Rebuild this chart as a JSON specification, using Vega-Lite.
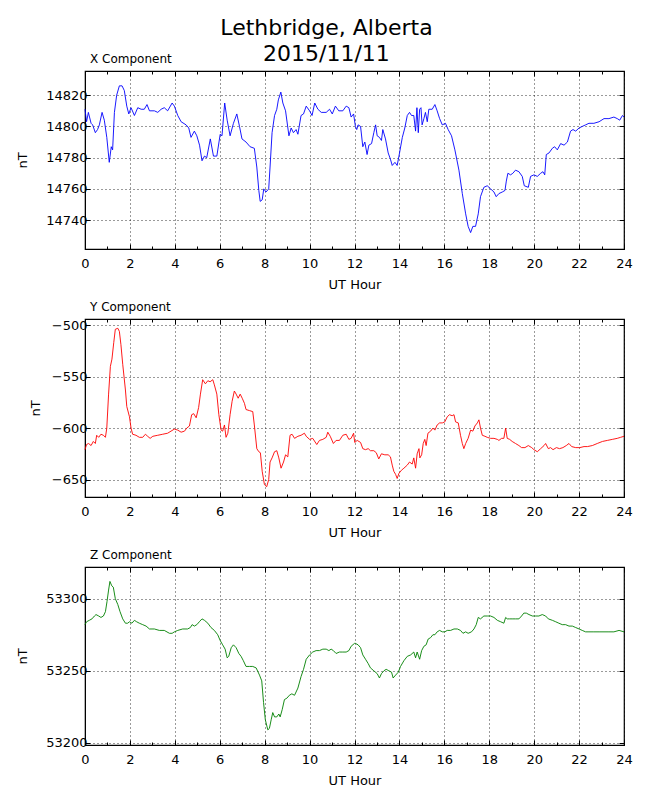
{
"$schema": "https://vega.github.io/schema/vega-lite/v6.json",
"background": "white",
"padding": {"left": 16, "top": 16, "right": 5, "bottom": 5},
"title": {"text": ["Lethbridge, Alberta", "2015/11/11"], "fontSize": 22, "font": "DejaVu Sans", "fontWeight": "normal", "anchor": "middle", "lineHeight": 26, "offset": -14, "dx": 2, "color": "black"},
"spacing": 7,
"datasets": {
"X": [
{"h":0.00,"v":14811},{"h":0.07,"v":14803},{"h":0.15,"v":14809},{"h":0.27,"v":14802},{"h":0.34,"v":14801},{"h":0.46,"v":14796},{"h":0.56,"v":14798},{"h":0.64,"v":14801},{"h":0.76,"v":14809},{"h":0.86,"v":14804},{"h":0.97,"v":14793},{"h":1.08,"v":14777},{"h":1.17,"v":14787},{"h":1.23,"v":14785},{"h":1.31,"v":14809},{"h":1.41,"v":14820},{"h":1.53,"v":14826},{"h":1.65,"v":14826},{"h":1.75,"v":14823},{"h":1.86,"v":14813},{"h":1.95,"v":14808},{"h":2.05,"v":14812},{"h":2.20,"v":14807},{"h":2.35,"v":14812},{"h":2.50,"v":14811},{"h":2.64,"v":14811},{"h":2.76,"v":14814},{"h":2.87,"v":14810},{"h":3.09,"v":14810},{"h":3.24,"v":14809},{"h":3.39,"v":14811},{"h":3.53,"v":14812},{"h":3.68,"v":14810},{"h":3.88,"v":14815},{"h":3.98,"v":14813},{"h":4.13,"v":14807},{"h":4.28,"v":14803},{"h":4.50,"v":14801},{"h":4.62,"v":14799},{"h":4.72,"v":14793},{"h":4.87,"v":14797},{"h":4.98,"v":14794},{"h":5.10,"v":14788},{"h":5.21,"v":14778},{"h":5.32,"v":14781},{"h":5.42,"v":14780},{"h":5.58,"v":14792},{"h":5.72,"v":14781},{"h":5.87,"v":14781},{"h":6.02,"v":14795},{"h":6.10,"v":14794},{"h":6.22,"v":14815},{"h":6.33,"v":14804},{"h":6.46,"v":14794},{"h":6.61,"v":14802},{"h":6.76,"v":14808},{"h":6.88,"v":14800},{"h":6.99,"v":14792},{"h":7.17,"v":14790},{"h":7.35,"v":14787},{"h":7.54,"v":14786},{"h":7.65,"v":14774},{"h":7.74,"v":14759},{"h":7.80,"v":14752},{"h":7.89,"v":14753},{"h":7.96,"v":14760},{"h":8.06,"v":14758},{"h":8.18,"v":14760},{"h":8.24,"v":14774},{"h":8.33,"v":14796},{"h":8.44,"v":14807},{"h":8.54,"v":14811},{"h":8.61,"v":14817},{"h":8.72,"v":14822},{"h":8.81,"v":14815},{"h":8.93,"v":14810},{"h":9.08,"v":14794},{"h":9.18,"v":14799},{"h":9.28,"v":14796},{"h":9.40,"v":14798},{"h":9.48,"v":14795},{"h":9.62,"v":14807},{"h":9.73,"v":14808},{"h":9.85,"v":14813},{"h":10.00,"v":14810},{"h":10.11,"v":14807},{"h":10.23,"v":14815},{"h":10.37,"v":14811},{"h":10.52,"v":14809},{"h":10.74,"v":14809},{"h":10.89,"v":14811},{"h":11.01,"v":14808},{"h":11.15,"v":14813},{"h":11.30,"v":14810},{"h":11.48,"v":14810},{"h":11.63,"v":14813},{"h":11.75,"v":14812},{"h":11.85,"v":14806},{"h":11.96,"v":14808},
{"h":12.04,"v":14800},{"h":12.10,"v":14798},{"h":12.16,"v":14801},{"h":12.27,"v":14800},{"h":12.37,"v":14787},{"h":12.46,"v":14790},{"h":12.56,"v":14782},{"h":12.64,"v":14788},{"h":12.76,"v":14789},{"h":12.86,"v":14796},{"h":12.94,"v":14801},{"h":13.01,"v":14794},{"h":13.11,"v":14793},{"h":13.20,"v":14791},{"h":13.26,"v":14798},{"h":13.38,"v":14792},{"h":13.50,"v":14783},{"h":13.60,"v":14779},{"h":13.68,"v":14775},{"h":13.80,"v":14777},{"h":13.90,"v":14775},{"h":13.98,"v":14781},{"h":14.13,"v":14793},{"h":14.24,"v":14799},{"h":14.35,"v":14807},{"h":14.45,"v":14809},{"h":14.54,"v":14807},{"h":14.64,"v":14807},{"h":14.72,"v":14797},{"h":14.78,"v":14812},{"h":14.84,"v":14796},{"h":14.90,"v":14811},{"h":14.96,"v":14812},{"h":15.01,"v":14801},{"h":15.09,"v":14805},{"h":15.16,"v":14809},{"h":15.24,"v":14803},{"h":15.31,"v":14811},{"h":15.46,"v":14811},{"h":15.58,"v":14814},{"h":15.68,"v":14810},{"h":15.79,"v":14805},{"h":15.91,"v":14801},{"h":16.05,"v":14802},{"h":16.17,"v":14798},{"h":16.32,"v":14794},{"h":16.47,"v":14785},{"h":16.65,"v":14772},{"h":16.80,"v":14757},{"h":16.95,"v":14744},{"h":17.06,"v":14736},{"h":17.17,"v":14732},{"h":17.27,"v":14736},{"h":17.39,"v":14736},{"h":17.51,"v":14744},{"h":17.61,"v":14755},{"h":17.76,"v":14761},{"h":17.91,"v":14762},{"h":18.06,"v":14760},{"h":18.21,"v":14758},{"h":18.31,"v":14755},{"h":18.43,"v":14757},{"h":18.58,"v":14758},{"h":18.70,"v":14759},{"h":18.76,"v":14765},{"h":18.83,"v":14770},{"h":18.95,"v":14769},{"h":19.05,"v":14770},{"h":19.17,"v":14772},{"h":19.32,"v":14771},{"h":19.47,"v":14768},{"h":19.56,"v":14762},{"h":19.74,"v":14761},{"h":19.84,"v":14768},{"h":19.99,"v":14769},{"h":20.14,"v":14768},{"h":20.29,"v":14770},{"h":20.39,"v":14771},{"h":20.47,"v":14769},{"h":20.54,"v":14782},{"h":20.66,"v":14783},{"h":20.81,"v":14786},{"h":20.91,"v":14787},{"h":21.03,"v":14785},{"h":21.18,"v":14789},{"h":21.33,"v":14788},{"h":21.48,"v":14790},{"h":21.62,"v":14797},{"h":21.73,"v":14798},{"h":21.85,"v":14797},{"h":22.00,"v":14799},{"h":22.14,"v":14800},{"h":22.29,"v":14801},{"h":22.44,"v":14802},{"h":22.66,"v":14802},{"h":22.89,"v":14803},{"h":23.11,"v":14805},{"h":23.33,"v":14805},{"h":23.55,"v":14806},{"h":23.70,"v":14805},{"h":23.81,"v":14804},{"h":23.93,"v":14807},{"h":24.00,"v":14806}
],
"Y": [
{"h":0.00,"v":-621},{"h":0.07,"v":-616},{"h":0.16,"v":-615},{"h":0.27,"v":-617},{"h":0.37,"v":-613},{"h":0.46,"v":-615},{"h":0.52,"v":-607},{"h":0.61,"v":-609},{"h":0.71,"v":-606},{"h":0.82,"v":-607},{"h":0.91,"v":-609},{"h":0.97,"v":-600},{"h":1.05,"v":-567},{"h":1.13,"v":-540},{"h":1.20,"v":-533},{"h":1.28,"v":-517},{"h":1.35,"v":-504},{"h":1.46,"v":-503},{"h":1.53,"v":-506},{"h":1.60,"v":-519},{"h":1.68,"v":-538},{"h":1.80,"v":-563},{"h":1.86,"v":-579},{"h":1.98,"v":-589},{"h":2.05,"v":-600},{"h":2.12,"v":-606},{"h":2.27,"v":-607},{"h":2.42,"v":-609},{"h":2.57,"v":-609},{"h":2.69,"v":-606},{"h":2.79,"v":-608},{"h":2.90,"v":-610},{"h":3.02,"v":-608},{"h":3.24,"v":-607},{"h":3.46,"v":-606},{"h":3.68,"v":-605},{"h":3.83,"v":-603},{"h":3.98,"v":-601},{"h":4.13,"v":-602},{"h":4.28,"v":-604},{"h":4.43,"v":-603},{"h":4.53,"v":-600},{"h":4.65,"v":-598},{"h":4.75,"v":-587},{"h":4.84,"v":-586},{"h":4.95,"v":-590},{"h":5.06,"v":-580},{"h":5.14,"v":-567},{"h":5.24,"v":-553},{"h":5.36,"v":-557},{"h":5.47,"v":-554},{"h":5.57,"v":-555},{"h":5.69,"v":-553},{"h":5.76,"v":-558},{"h":5.87,"v":-567},{"h":5.96,"v":-587},{"h":6.06,"v":-602},{"h":6.13,"v":-603},{"h":6.21,"v":-597},{"h":6.28,"v":-609},{"h":6.36,"v":-605},{"h":6.46,"v":-587},{"h":6.55,"v":-574},{"h":6.65,"v":-564},{"h":6.73,"v":-567},{"h":6.82,"v":-571},{"h":6.91,"v":-567},{"h":7.00,"v":-571},{"h":7.10,"v":-576},{"h":7.17,"v":-582},{"h":7.32,"v":-583},{"h":7.47,"v":-584},{"h":7.54,"v":-597},{"h":7.65,"v":-620},{"h":7.74,"v":-623},{"h":7.81,"v":-624},{"h":7.89,"v":-642},{"h":7.99,"v":-655},{"h":8.09,"v":-657},{"h":8.18,"v":-650},{"h":8.24,"v":-633},{"h":8.33,"v":-629},{"h":8.44,"v":-623},{"h":8.54,"v":-622},{"h":8.63,"v":-629},{"h":8.73,"v":-639},{"h":8.84,"v":-633},{"h":8.93,"v":-626},{"h":9.03,"v":-628},{"h":9.13,"v":-607},{"h":9.22,"v":-606},{"h":9.33,"v":-610},{"h":9.48,"v":-608},{"h":9.62,"v":-607},{"h":9.77,"v":-605},{"h":9.85,"v":-608},{"h":10.00,"v":-611},{"h":10.14,"v":-610},{"h":10.32,"v":-616},{"h":10.44,"v":-612},{"h":10.59,"v":-611},{"h":10.74,"v":-609},{"h":10.81,"v":-604},{"h":10.92,"v":-608},{"h":11.06,"v":-615},{"h":11.18,"v":-612},{"h":11.33,"v":-612},{"h":11.48,"v":-607},{"h":11.63,"v":-606},{"h":11.75,"v":-611},{"h":11.85,"v":-610},{"h":11.96,"v":-605},
{"h":12.01,"v":-614},{"h":12.12,"v":-612},{"h":12.27,"v":-614},{"h":12.37,"v":-620},{"h":12.49,"v":-621},{"h":12.61,"v":-620},{"h":12.71,"v":-622},{"h":12.86,"v":-622},{"h":12.97,"v":-624},{"h":13.08,"v":-630},{"h":13.20,"v":-625},{"h":13.35,"v":-626},{"h":13.50,"v":-626},{"h":13.60,"v":-628},{"h":13.68,"v":-636},{"h":13.75,"v":-642},{"h":13.83,"v":-645},{"h":13.90,"v":-649},{"h":13.98,"v":-644},{"h":14.09,"v":-641},{"h":14.20,"v":-639},{"h":14.35,"v":-636},{"h":14.45,"v":-633},{"h":14.57,"v":-635},{"h":14.64,"v":-629},{"h":14.72,"v":-639},{"h":14.79,"v":-625},{"h":14.87,"v":-620},{"h":14.91,"v":-629},{"h":14.99,"v":-626},{"h":15.06,"v":-615},{"h":15.13,"v":-611},{"h":15.19,"v":-617},{"h":15.27,"v":-605},{"h":15.39,"v":-603},{"h":15.49,"v":-600},{"h":15.58,"v":-602},{"h":15.68,"v":-597},{"h":15.79,"v":-595},{"h":15.91,"v":-595},{"h":16.02,"v":-594},{"h":16.13,"v":-589},{"h":16.23,"v":-587},{"h":16.35,"v":-588},{"h":16.43,"v":-587},{"h":16.50,"v":-594},{"h":16.62,"v":-595},{"h":16.72,"v":-607},{"h":16.80,"v":-615},{"h":16.87,"v":-620},{"h":16.95,"v":-615},{"h":17.06,"v":-610},{"h":17.17,"v":-602},{"h":17.27,"v":-603},{"h":17.36,"v":-598},{"h":17.47,"v":-595},{"h":17.54,"v":-592},{"h":17.61,"v":-600},{"h":17.69,"v":-607},{"h":17.81,"v":-608},{"h":17.91,"v":-609},{"h":18.06,"v":-610},{"h":18.21,"v":-610},{"h":18.36,"v":-611},{"h":18.43,"v":-612},{"h":18.55,"v":-610},{"h":18.65,"v":-610},{"h":18.73,"v":-600},{"h":18.80,"v":-610},{"h":18.91,"v":-611},{"h":19.02,"v":-613},{"h":19.17,"v":-615},{"h":19.32,"v":-617},{"h":19.44,"v":-619},{"h":19.59,"v":-619},{"h":19.74,"v":-617},{"h":19.89,"v":-619},{"h":19.99,"v":-621},{"h":20.14,"v":-623},{"h":20.29,"v":-620},{"h":20.44,"v":-617},{"h":20.51,"v":-615},{"h":20.63,"v":-620},{"h":20.73,"v":-619},{"h":20.84,"v":-621},{"h":20.99,"v":-619},{"h":21.13,"v":-620},{"h":21.28,"v":-619},{"h":21.43,"v":-617},{"h":21.55,"v":-615},{"h":21.67,"v":-618},{"h":21.85,"v":-619},{"h":22.03,"v":-619},{"h":22.22,"v":-618},{"h":22.37,"v":-618},{"h":22.59,"v":-617},{"h":22.81,"v":-615},{"h":23.04,"v":-613},{"h":23.26,"v":-612},{"h":23.48,"v":-611},{"h":23.70,"v":-610},{"h":23.85,"v":-609},{"h":24.00,"v":-608}
],
"Z": [
{"h":0.00,"v":53282},{"h":0.07,"v":53284},{"h":0.19,"v":53285},{"h":0.31,"v":53286},{"h":0.42,"v":53288},{"h":0.49,"v":53289},{"h":0.61,"v":53288},{"h":0.71,"v":53287},{"h":0.82,"v":53288},{"h":0.91,"v":53291},{"h":0.98,"v":53298},{"h":1.05,"v":53306},{"h":1.11,"v":53312},{"h":1.19,"v":53309},{"h":1.26,"v":53308},{"h":1.35,"v":53300},{"h":1.46,"v":53296},{"h":1.56,"v":53291},{"h":1.68,"v":53286},{"h":1.80,"v":53283},{"h":1.90,"v":53283},{"h":1.98,"v":53284},{"h":2.09,"v":53283},{"h":2.20,"v":53285},{"h":2.30,"v":53284},{"h":2.42,"v":53283},{"h":2.57,"v":53282},{"h":2.72,"v":53281},{"h":2.87,"v":53279},{"h":3.09,"v":53279},{"h":3.31,"v":53278},{"h":3.53,"v":53278},{"h":3.76,"v":53276},{"h":3.88,"v":53276},{"h":3.98,"v":53277},{"h":4.13,"v":53278},{"h":4.35,"v":53279},{"h":4.57,"v":53279},{"h":4.69,"v":53280},{"h":4.77,"v":53282},{"h":4.87,"v":53281},{"h":4.98,"v":53282},{"h":5.09,"v":53284},{"h":5.21,"v":53286},{"h":5.32,"v":53285},{"h":5.47,"v":53283},{"h":5.61,"v":53280},{"h":5.76,"v":53278},{"h":5.91,"v":53275},{"h":6.02,"v":53271},{"h":6.13,"v":53268},{"h":6.24,"v":53265},{"h":6.33,"v":53259},{"h":6.40,"v":53260},{"h":6.51,"v":53266},{"h":6.61,"v":53268},{"h":6.73,"v":53266},{"h":6.85,"v":53262},{"h":6.95,"v":53260},{"h":7.05,"v":53257},{"h":7.17,"v":53253},{"h":7.32,"v":53253},{"h":7.47,"v":53253},{"h":7.62,"v":53252},{"h":7.77,"v":53247},{"h":7.87,"v":53243},{"h":7.95,"v":53228},{"h":8.03,"v":53216},{"h":8.14,"v":53209},{"h":8.21,"v":53210},{"h":8.29,"v":53216},{"h":8.36,"v":53221},{"h":8.44,"v":53218},{"h":8.54,"v":53218},{"h":8.63,"v":53220},{"h":8.69,"v":53218},{"h":8.78,"v":53223},{"h":8.88,"v":53230},{"h":8.99,"v":53231},{"h":9.10,"v":53233},{"h":9.21,"v":53234},{"h":9.33,"v":53233},{"h":9.48,"v":53238},{"h":9.62,"v":53246},{"h":9.73,"v":53251},{"h":9.85,"v":53258},{"h":10.00,"v":53261},{"h":10.14,"v":53263},{"h":10.29,"v":53264},{"h":10.44,"v":53264},{"h":10.59,"v":53265},{"h":10.74,"v":53265},{"h":10.86,"v":53264},{"h":10.96,"v":53265},{"h":11.06,"v":53264},{"h":11.18,"v":53262},{"h":11.33,"v":53263},{"h":11.48,"v":53263},{"h":11.63,"v":53263},{"h":11.75,"v":53264},{"h":11.85,"v":53267},{"h":12.00,"v":53269},
{"h":12.04,"v":53269},{"h":12.16,"v":53268},{"h":12.27,"v":53266},{"h":12.37,"v":53261},{"h":12.49,"v":53258},{"h":12.61,"v":53255},{"h":12.71,"v":53252},{"h":12.86,"v":53250},{"h":13.01,"v":53248},{"h":13.11,"v":53245},{"h":13.20,"v":53248},{"h":13.31,"v":53250},{"h":13.41,"v":53251},{"h":13.53,"v":53250},{"h":13.65,"v":53249},{"h":13.72,"v":53245},{"h":13.83,"v":53247},{"h":13.95,"v":53249},{"h":14.05,"v":53253},{"h":14.20,"v":53257},{"h":14.35,"v":53260},{"h":14.50,"v":53261},{"h":14.64,"v":53263},{"h":14.72,"v":53259},{"h":14.79,"v":53263},{"h":14.90,"v":53258},{"h":14.99,"v":53264},{"h":15.09,"v":53267},{"h":15.19,"v":53268},{"h":15.28,"v":53272},{"h":15.39,"v":53273},{"h":15.49,"v":53275},{"h":15.58,"v":53275},{"h":15.68,"v":53277},{"h":15.79,"v":53278},{"h":15.91,"v":53277},{"h":16.02,"v":53277},{"h":16.13,"v":53278},{"h":16.28,"v":53278},{"h":16.43,"v":53279},{"h":16.58,"v":53279},{"h":16.72,"v":53278},{"h":16.83,"v":53276},{"h":16.95,"v":53277},{"h":17.06,"v":53276},{"h":17.21,"v":53277},{"h":17.32,"v":53279},{"h":17.42,"v":53282},{"h":17.51,"v":53287},{"h":17.61,"v":53286},{"h":17.76,"v":53288},{"h":17.91,"v":53288},{"h":18.06,"v":53288},{"h":18.21,"v":53287},{"h":18.36,"v":53285},{"h":18.51,"v":53284},{"h":18.65,"v":53283},{"h":18.73,"v":53287},{"h":18.80,"v":53286},{"h":18.91,"v":53286},{"h":19.02,"v":53286},{"h":19.17,"v":53286},{"h":19.32,"v":53286},{"h":19.44,"v":53288},{"h":19.54,"v":53290},{"h":19.65,"v":53290},{"h":19.77,"v":53289},{"h":19.92,"v":53288},{"h":20.06,"v":53288},{"h":20.21,"v":53288},{"h":20.36,"v":53289},{"h":20.51,"v":53288},{"h":20.63,"v":53286},{"h":20.81,"v":53285},{"h":20.96,"v":53284},{"h":21.10,"v":53283},{"h":21.25,"v":53282},{"h":21.40,"v":53282},{"h":21.55,"v":53281},{"h":21.70,"v":53281},{"h":21.85,"v":53280},{"h":22.00,"v":53279},{"h":22.14,"v":53278},{"h":22.29,"v":53277},{"h":22.44,"v":53277},{"h":22.66,"v":53277},{"h":22.89,"v":53277},{"h":23.11,"v":53277},{"h":23.33,"v":53277},{"h":23.55,"v":53277},{"h":23.78,"v":53278},{"h":24.00,"v":53277}
]
},
"vconcat": [
{
"width": 539, "height": 178,
"title": {"text": "X Component", "anchor": "start", "frame": "group", "dx": 5, "fontSize": 12, "font": "DejaVu Sans", "fontWeight": "normal", "offset": 5, "color": "black"},
"data": {"name": "X"},
"layer": [
{"mark": {"type": "line", "color": "#0000ff", "strokeWidth": 0.9},
 "encoding": {
  "x": {"field": "h", "type": "quantitative", "scale": {"domain": [0, 24], "nice": false},
        "axis": {"orient": "bottom", "title": "UT Hour", "values": [0,1,2,3,4,5,6,7,8,9,10,11,12,13,14,15,16,17,18,19,20,21,22,23,24], "labelExpr": "datum.value % 2 === 0 ? datum.label : ''", "labelFlush": false, "labelOverlap": false, "grid": true, "gridOpacity": {"condition": {"test": "datum.value % 2 === 1", "value": 0}, "value": 1}, "tickSize": {"condition": {"test": "datum.value % 2 === 1", "value": -3}, "value": -5}, "labelPadding": 13, "titlePadding": 6}},
  "y": {"field": "v", "type": "quantitative", "scale": {"domain": [14721.5, 14835.5], "nice": false, "zero": false},
        "axis": {"orient": "left", "title": "nT", "values": [14740,14760,14780,14800,14820], "format": "d", "grid": true, "tickSize": -5, "labelPadding": 3, "titlePadding": 16}}
 }},
{"mark": {"type": "line", "opacity": 0},
 "encoding": {
  "x": {"field": "h", "type": "quantitative", "axis": {"orient": "top", "title": null, "labels": false, "grid": false, "domain": false, "values": [0,1,2,3,4,5,6,7,8,9,10,11,12,13,14,15,16,17,18,19,20,21,22,23,24], "tickSize": {"condition": {"test": "datum.value % 2 === 1", "value": -3}, "value": -5}}},
  "y": {"field": "v", "type": "quantitative", "axis": {"orient": "right", "title": null, "labels": false, "grid": false, "domain": false, "values": [14740,14760,14780,14800,14820], "tickSize": -5}}
 }}
],
"resolve": {"axis": {"x": "independent", "y": "independent"}}
},
{
"width": 539, "height": 178,
"title": {"text": "Y Component", "anchor": "start", "frame": "group", "dx": 5, "fontSize": 12, "font": "DejaVu Sans", "fontWeight": "normal", "offset": 5, "color": "black"},
"data": {"name": "Y"},
"layer": [
{"mark": {"type": "line", "color": "#ff0000", "strokeWidth": 0.9},
 "encoding": {
  "x": {"field": "h", "type": "quantitative", "scale": {"domain": [0, 24], "nice": false},
        "axis": {"orient": "bottom", "title": "UT Hour", "values": [0,1,2,3,4,5,6,7,8,9,10,11,12,13,14,15,16,17,18,19,20,21,22,23,24], "labelExpr": "datum.value % 2 === 0 ? datum.label : ''", "labelFlush": false, "labelOverlap": false, "grid": true, "gridOpacity": {"condition": {"test": "datum.value % 2 === 1", "value": 0}, "value": 1}, "tickSize": {"condition": {"test": "datum.value % 2 === 1", "value": -3}, "value": -5}, "labelPadding": 13, "titlePadding": 6}},
  "y": {"field": "v", "type": "quantitative", "scale": {"domain": [-667, -494], "nice": false, "zero": false},
        "axis": {"orient": "left", "title": "nT", "values": [-650,-600,-550,-500], "format": "d", "grid": true, "tickSize": -5, "labelPadding": 3, "titlePadding": 9}}
 }},
{"mark": {"type": "line", "opacity": 0},
 "encoding": {
  "x": {"field": "h", "type": "quantitative", "axis": {"orient": "top", "title": null, "labels": false, "grid": false, "domain": false, "values": [0,1,2,3,4,5,6,7,8,9,10,11,12,13,14,15,16,17,18,19,20,21,22,23,24], "tickSize": {"condition": {"test": "datum.value % 2 === 1", "value": -3}, "value": -5}}},
  "y": {"field": "v", "type": "quantitative", "axis": {"orient": "right", "title": null, "labels": false, "grid": false, "domain": false, "values": [-650,-600,-550,-500], "tickSize": -5}}
 }}
],
"resolve": {"axis": {"x": "independent", "y": "independent"}}
},
{
"width": 539, "height": 178,
"title": {"text": "Z Component", "anchor": "start", "frame": "group", "dx": 5, "fontSize": 12, "font": "DejaVu Sans", "fontWeight": "normal", "offset": 5, "color": "black"},
"data": {"name": "Z"},
"layer": [
{"mark": {"type": "line", "color": "#008000", "strokeWidth": 0.9},
 "encoding": {
  "x": {"field": "h", "type": "quantitative", "scale": {"domain": [0, 24], "nice": false},
        "axis": {"orient": "bottom", "title": "UT Hour", "values": [0,1,2,3,4,5,6,7,8,9,10,11,12,13,14,15,16,17,18,19,20,21,22,23,24], "labelExpr": "datum.value % 2 === 0 ? datum.label : ''", "labelFlush": false, "labelOverlap": false, "grid": true, "gridOpacity": {"condition": {"test": "datum.value % 2 === 1", "value": 0}, "value": 1}, "tickSize": {"condition": {"test": "datum.value % 2 === 1", "value": -3}, "value": -5}, "labelPadding": 13, "titlePadding": 6}},
  "y": {"field": "v", "type": "quantitative", "scale": {"domain": [53198.5, 53322], "nice": false, "zero": false},
        "axis": {"orient": "left", "title": "nT", "values": [53200,53250,53300], "format": "d", "grid": true, "tickSize": -5, "labelPadding": 3, "titlePadding": 16}}
 }},
{"mark": {"type": "line", "opacity": 0},
 "encoding": {
  "x": {"field": "h", "type": "quantitative", "axis": {"orient": "top", "title": null, "labels": false, "grid": false, "domain": false, "values": [0,1,2,3,4,5,6,7,8,9,10,11,12,13,14,15,16,17,18,19,20,21,22,23,24], "tickSize": {"condition": {"test": "datum.value % 2 === 1", "value": -3}, "value": -5}}},
  "y": {"field": "v", "type": "quantitative", "axis": {"orient": "right", "title": null, "labels": false, "grid": false, "domain": false, "values": [53200,53250,53300], "tickSize": -5}}
 }}
],
"resolve": {"axis": {"x": "independent", "y": "independent"}}
}
],
"config": {
 "font": "DejaVu Sans",
 "view": {"stroke": "black", "strokeWidth": 1.2},
 "axis": {"domainColor": "black", "tickColor": "black", "labelColor": "black", "titleColor": "black", "labelFont": "DejaVu Sans", "titleFont": "DejaVu Sans", "labelFontSize": 13, "titleFontSize": 13, "titleFontWeight": "normal", "gridColor": "black", "gridDash": [1, 3], "gridOpacity": 1, "gridWidth": 0.8}
}
}
